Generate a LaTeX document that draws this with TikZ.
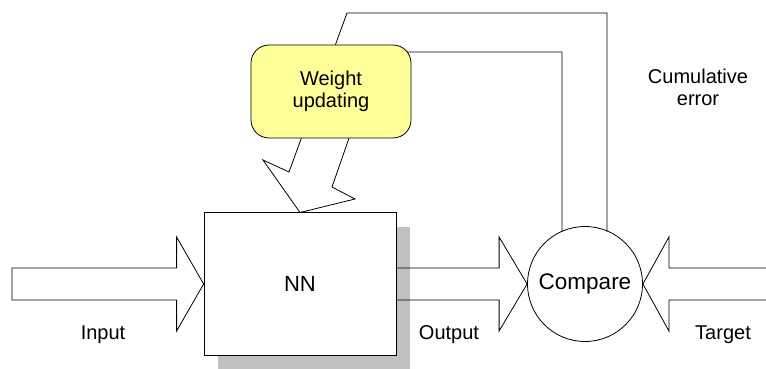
\documentclass[tikz,border=0pt]{standalone}
\usepackage{fontspec}
\setmainfont{Liberation Sans}
\usetikzlibrary{calc,shadows}

\definecolor{wuyellow}{RGB}{255,255,153}
\definecolor{shadowgray}{RGB}{192,192,192}

\tikzset{
	lbl/.style={font=\fontsize{20}{22}\selectfont, align=center},
	blkarrow/.style={draw=black, line width=0.8pt, line join=miter},
	nnbox/.style={draw, fill=white, line width=0.8pt, inner sep=0pt,
		minimum width=192pt, minimum height=143pt,
		font=\fontsize{22}{24}\selectfont},
	cmpcircle/.style={circle, draw, fill=white, line width=0.8pt, inner sep=0pt,
		minimum size=115pt, font=\fontsize{22.5}{24}\selectfont},
	wubox/.style={draw, fill=wuyellow, line width=0.8pt, rounded corners=18pt,
		minimum width=160pt, minimum height=93pt, lbl}
}

\begin{document}
\begin{tikzpicture}[x=1pt, y=-1pt]
		\useasboundingbox (0,0) rectangle (766,369);

		% Noder
		\node[cmpcircle] (cmp) at (585,284) {Compare};
		\coordinate (inL) at (12,284);
		\coordinate (trR) at (766,284);

		% Tilbakekobling: Compare -> Weight updating -> NN
		\coordinate (fbA) at (562,52);
		\coordinate (fbB) at (379,52);
		\coordinate (fbC) at (332,187);
		\coordinate (fbD) at (355,199);
		\coordinate (fbE) at (263,160);
		\coordinate (fbF) at (289,172);
		\coordinate (fbG) at (347,13);
		\coordinate (fbH) at (607,13);
		\draw[blkarrow] ($(cmp.center)+(-23,-52.5)$) -- (fbA) -- (fbB) -- (fbC) -- (fbD)
			-- (300,212.5) -- (fbE) -- (fbF) -- (fbG) -- (fbH) -- ($(cmp.center)+(22,-52.5)$);

		\node[wubox] (wu) at (331,91.5) {Weight\\updating};

		% Nevralt nett med skygge
		\node[nnbox, drop shadow={shadow xshift=14pt, shadow yshift=-14pt,
			fill=shadowgray, opacity=1}] (nn) at (300,284) {NN};

		% Input-pil
		\draw[blkarrow] ($(inL)+(0,-16)$) -- ($(nn.west)+(-27,-16)$) -- ($(nn.west)+(-27,-47)$)
			-- (nn.west) -- ($(nn.west)+(-27,47)$) -- ($(nn.west)+(-27,16)$) -- ($(inL)+(0,16)$) -- cycle;

		% Output-pil
		\draw[blkarrow] ($(nn.east)+(0,-16)$) -- ($(cmp.west)+(-28,-16)$) -- ($(cmp.west)+(-28,-47)$)
			-- (cmp.west) -- ($(cmp.west)+(-28,47)$) -- ($(cmp.west)+(-28,16)$) -- ($(nn.east)+(0,16)$);

		% Target-pil
		\draw[blkarrow] ($(trR)+(0,-16)$) -- ($(cmp.east)+(26,-16)$) -- ($(cmp.east)+(26,-47)$)
			-- (cmp.east) -- ($(cmp.east)+(26,47)$) -- ($(cmp.east)+(26,16)$) -- ($(trR)+(0,16)$);

		% Tekster
		\node[lbl, anchor=base] (inlbl) at (103,339) {Input};
		\node[lbl, anchor=base] (outlbl) at (449,339) {Output};
		\node[lbl, anchor=base] (trlbl) at (723,339) {Target};
		\node[lbl] (errlbl) at (698,87) {Cumulative\\error};
	\end{tikzpicture}
\end{document}
